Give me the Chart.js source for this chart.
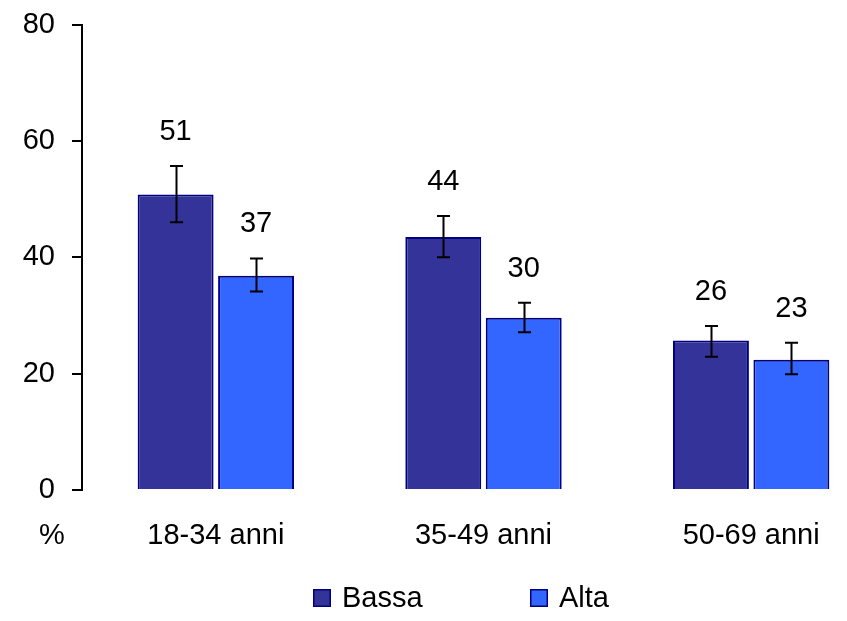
<!DOCTYPE html>
<html>
<head>
<meta charset="utf-8">
<script src="https://cdn.jsdelivr.net/npm/chart.js@4/dist/chart.umd.min.js"></script>
<style>
html,body{margin:0;padding:0;background:#fff;overflow:hidden;}
#wrap{width:920px;height:621px;}
</style>
</head>
<body>
<div id="wrap"><canvas id="c" width="920" height="621"></canvas></div>
<script>
// ---- data ----
const categories = ['18-34 anni', '35-49 anni', '50-69 anni'];
const seriesNames = ['Bassa', 'Alta'];
const bassa = [50.8, 43.5, 25.7];
const alta = [36.8, 29.6, 22.4];
const bassaLow = [46.0, 40.0, 22.9];
const bassaHigh = [55.7, 47.1, 28.2];
const altaLow = [34.1, 27.1, 19.9];
const altaHigh = [39.8, 32.2, 25.3];
const bassaLabels = ['51', '44', '26'];
const altaLabels = ['37', '30', '23'];
const yTicks = [0, 20, 40, 60, 80];
const unitLabel = '%';

const FONT = '"Liberation Sans", Arial, sans-serif';
const FS = 29;
const colors = ['#333399', '#3366FF'];
const borderCol = '#000080';

const errLow = [bassaLow, altaLow];
const errHigh = [bassaHigh, altaHigh];
const valLabels = [bassaLabels, altaLabels];

const extras = {
  id: 'extras',
  afterDatasetsDraw(chart) {
    const ctx = chart.ctx;
    const y = chart.scales.y;
    ctx.save();
    chart.data.datasets.forEach((ds, di) => {
      const meta = chart.getDatasetMeta(di);
      meta.data.forEach((bar, i) => {
        const x = Math.round(bar.x) + 0.5;
        const yl = y.getPixelForValue(errLow[di][i]);
        const yh = y.getPixelForValue(errHigh[di][i]);
        ctx.strokeStyle = '#000';
        ctx.lineWidth = 2;
        ctx.beginPath();
        ctx.moveTo(x, yl); ctx.lineTo(x, yh);
        ctx.moveTo(x - 6.5, yl); ctx.lineTo(x + 6.5, yl);
        ctx.moveTo(x - 6.5, yh); ctx.lineTo(x + 6.5, yh);
        ctx.stroke();
        ctx.fillStyle = '#000';
        ctx.font = FS + 'px ' + FONT;
        ctx.textAlign = 'center';
        ctx.textBaseline = 'middle';
        ctx.fillText(valLabels[di][i], bar.x, yh - 34);
      });
    });
    ctx.fillStyle = '#000';
    ctx.font = FS + 'px ' + FONT;
    ctx.textAlign = 'center';
    ctx.textBaseline = 'middle';
    ctx.fillText(unitLabel, 52, chart.chartArea.bottom + 46);
    const ly = 598;
    const items = [{x: 313}, {x: 530}];
    ctx.textAlign = 'left';
    items.forEach((it, k) => {
      ctx.fillStyle = colors[k];
      ctx.fillRect(it.x, ly - 9, 18, 18);
      ctx.strokeStyle = borderCol;
      ctx.lineWidth = 1.5;
      ctx.strokeRect(it.x + 0.75, ly - 8.25, 16.5, 16.5);
      ctx.fillStyle = '#000';
      ctx.fillText(seriesNames[k], it.x + 29, ly + 1);
    });
    ctx.restore();
  }
};

new Chart(document.getElementById('c'), {
  type: 'bar',
  data: {
    labels: categories,
    datasets: [
      {label: seriesNames[0], data: bassa, backgroundColor: colors[0], borderColor: borderCol, borderWidth: 2,
       categoryPercentage: 0.601, barPercentage: 0.944},
      {label: seriesNames[1], data: alta, backgroundColor: colors[1], borderColor: borderCol, borderWidth: 2,
       categoryPercentage: 0.601, barPercentage: 0.944}
    ]
  },
  options: {
    responsive: false,
    animation: false,
    devicePixelRatio: 1,
    layout: {padding: {top: 24.5, right: 35, left: 0, bottom: 0}},
    plugins: {legend: {display: false}, tooltip: {enabled: false}},
    scales: {
      x: {
        grid: {display: false, drawTicks: false},
        border: {display: false},
        ticks: {color: '#000', font: {family: FONT, size: FS}, padding: 29, maxRotation: 0},
        afterFit(s) { s.height = 131; s.paddingLeft = 0; s.paddingRight = 0; }
      },
      y: {
        min: 0, max: 80,
        afterBuildTicks(s) { s.ticks = yTicks.map(v => ({value: v})); },
        grid: {drawOnChartArea: false, drawTicks: true, tickLength: 10, color: '#000', lineWidth: 2},
        border: {display: true, color: '#000', width: 2},
        ticks: {color: '#000', font: {family: FONT, size: FS}, padding: 17},
        afterFit(s) { s.width = 82; s.paddingTop = 0; s.paddingBottom = 0; }
      }
    }
  },
  plugins: [extras]
});
</script>
</body>
</html>
